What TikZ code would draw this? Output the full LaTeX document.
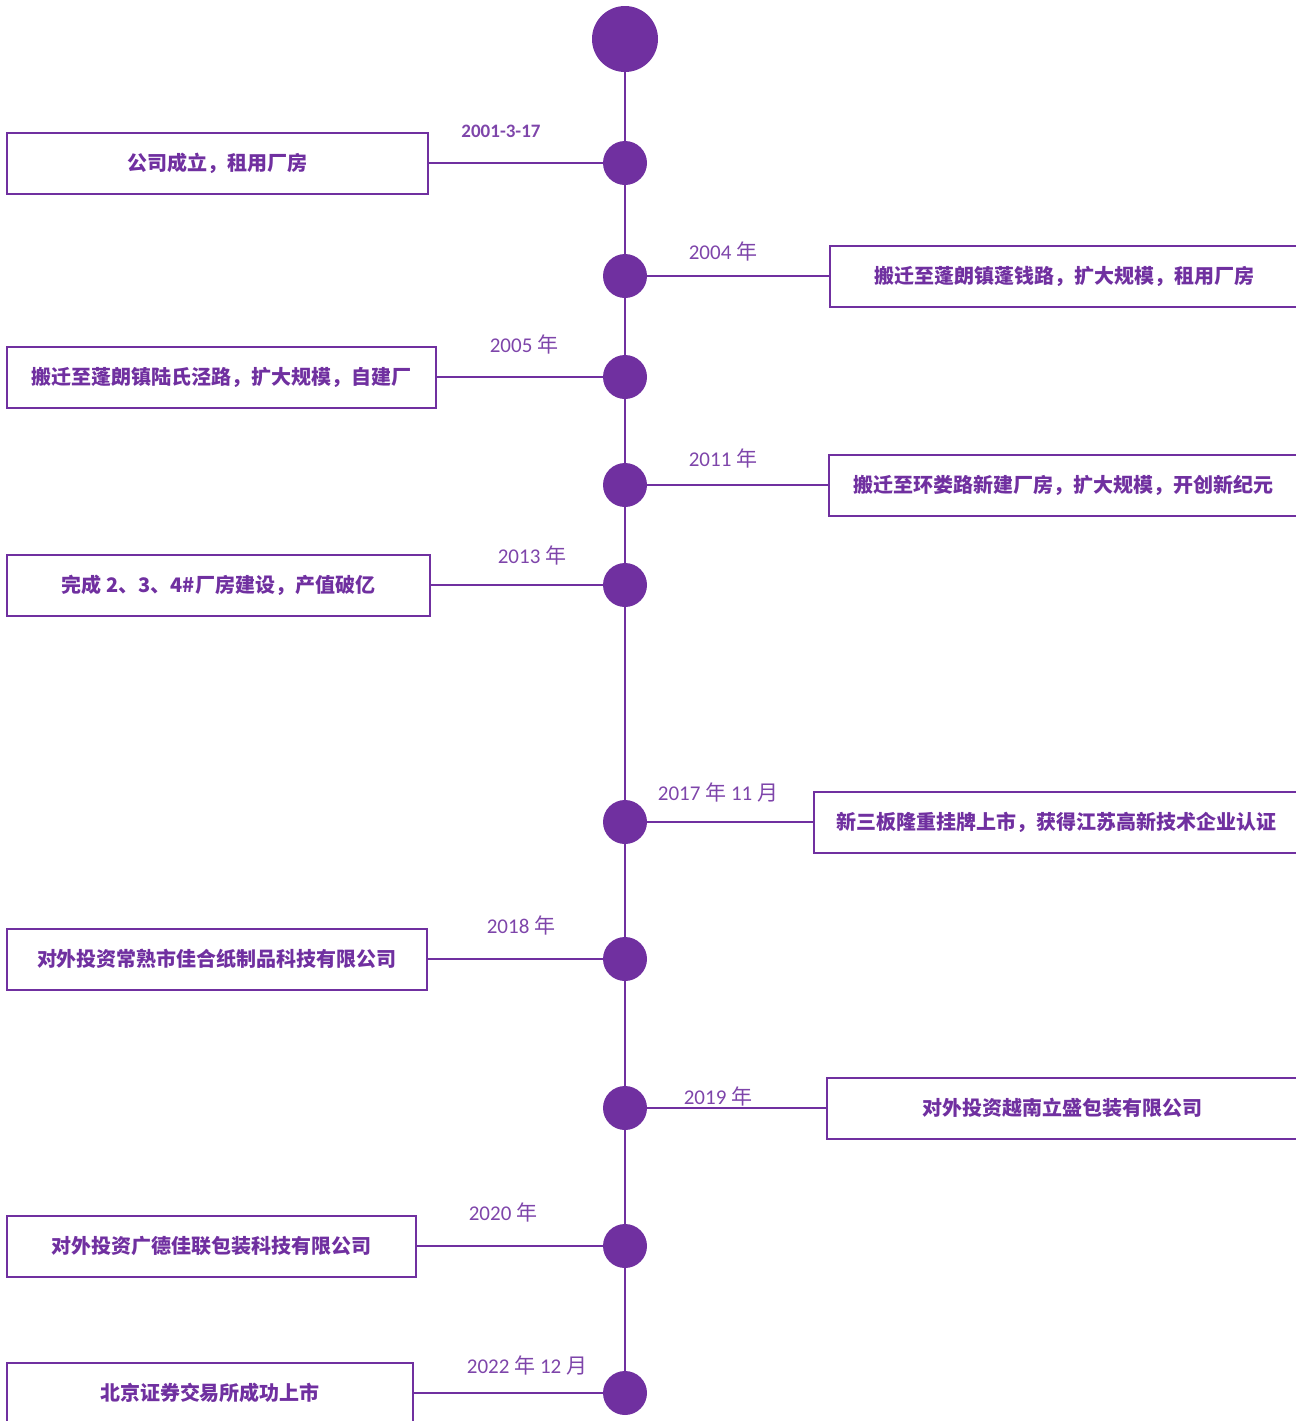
\documentclass[tikz,border=0pt]{standalone}
\usepackage{fontspec}
\setmainfont{Carlito}
\newfontfamily\cjk{Noto Sans CJK SC}
\usepackage{tikz}
\usetikzlibrary{positioning}

\definecolor{tlpurple}{HTML}{7030A0}

\begin{document}
\begin{tikzpicture}[
    x=0.5pt, y=-0.5pt,
    dot/.style={circle, fill=tlpurple, draw=none, inner sep=0pt, minimum size=22pt},
    bigdot/.style={dot, minimum size=33pt},
    event/.style={rectangle, draw=tlpurple, line width=1pt, minimum height=30.5pt,
                  inner sep=0pt, text=tlpurple, font=\cjk\bfseries\fontsize{10pt}{12pt}\selectfont},
    date/.style={text=tlpurple!90, inner sep=0pt, font=\fontsize{10.5pt}{12pt}\selectfont},
    link/.style={draw=tlpurple, line width=1pt}
]

    % Canvas
    \useasboundingbox (0,0) rectangle (1296,1421);

    % Spine dots
    \node[bigdot] (top) at (625, 39) {};
    \node[dot] (c1) at (625, 163) {};
    \node[dot] (c2) at (625, 276) {};
    \node[dot] (c3) at (625, 377) {};
    \node[dot] (c4) at (625, 485) {};
    \node[dot] (c5) at (625, 585) {};
    \node[dot] (c6) at (625, 822) {};
    \node[dot] (c7) at (625, 959) {};
    \node[dot] (c8) at (625, 1108) {};
    \node[dot] (c9) at (625, 1246) {};
    \node[dot] (c10) at (625, 1393) {};

    % Event boxes
    \node[event, minimum width=210.5pt] (b1) at (217.5, 163) {公司成立，租用厂房};
    \node[event, minimum width=234pt] (b2) at (1064, 276) {搬迁至蓬朗镇蓬钱路，扩大规模，租用厂房};
    \node[event, minimum width=214.5pt] (b3) at (221.5, 377) {搬迁至蓬朗镇陆氏泾路，扩大规模，自建厂};
    \node[event, minimum width=234.5pt] (b4) at (1063.5, 485) {搬迁至环娄路新建厂房，扩大规模，开创新纪元};
    \node[event, minimum width=211.5pt] (b5) at (218.5, 585) {完成 2、3、4\#厂房建设，产值破亿};
    \node[event, minimum width=242pt] (b6) at (1056, 822) {新三板隆重挂牌上市，获得江苏高新技术企业认证};
    \node[event, minimum width=210pt] (b7) at (217, 959) {对外投资常熟市佳合纸制品科技有限公司};
    \node[event, minimum width=235.5pt] (b8) at (1062.5, 1108) {对外投资越南立盛包装有限公司};
    \node[event, minimum width=204.5pt] (b9) at (211.5, 1246) {对外投资广德佳联包装科技有限公司};
    \node[event, minimum width=203pt] (b10) at (210, 1393) {北京证券交易所成功上市};

    % Dates
    \node[date, font=\bfseries\fontsize{9.5pt}{11pt}\selectfont] (d1) at (501, 131) {2001-3-17};
    \node[date] (d2) at (723, 251) {2004 {\cjk 年}};
    \node[date] (d3) at (524, 344) {2005 {\cjk 年}};
    \node[date] (d4) at (723, 458) {2011 {\cjk 年}};
    \node[date] (d5) at (532, 555) {2013 {\cjk 年}};
    \node[date] (d6) at (718, 792) {2017 {\cjk 年} 11 {\cjk 月}};
    \node[date] (d7) at (521, 925) {2018 {\cjk 年}};
    \node[date] (d8) at (718, 1096) {2019 {\cjk 年}};
    \node[date] (d9) at (503, 1212) {2020 {\cjk 年}};
    \node[date] (d10) at (527, 1365) {2022 {\cjk 年} 12 {\cjk 月}};

    % Spine
    \draw[link] (top) -- (c1) -- (c2) -- (c3) -- (c4) -- (c5) -- (c6) -- (c7) -- (c8) -- (c9) -- (c10);

    % Connectors
    \draw[link] (c1) -- (b1);
    \draw[link] (c2) -- (b2);
    \draw[link] (c3) -- (b3);
    \draw[link] (c4) -- (b4);
    \draw[link] (c5) -- (b5);
    \draw[link] (c6) -- (b6);
    \draw[link] (c7) -- (b7);
    \draw[link] (c8) -- (b8);
    \draw[link] (c9) -- (b9);
    \draw[link] (c10) -- (b10);

\end{tikzpicture}
\end{document}
